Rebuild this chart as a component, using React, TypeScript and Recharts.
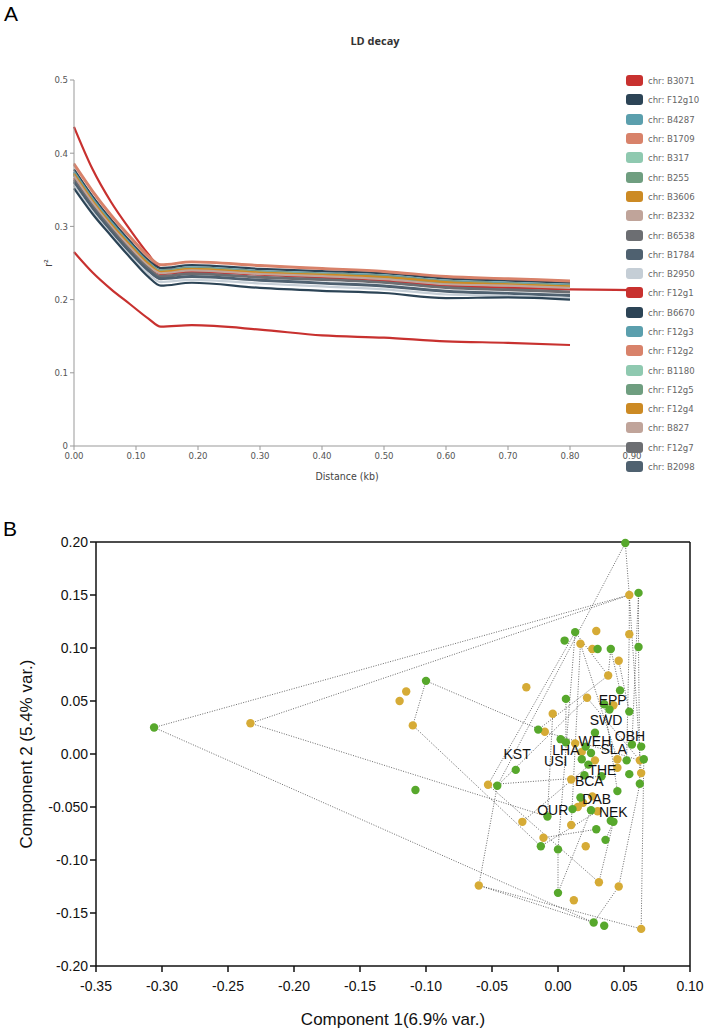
import { LineChart, Line, XAxis, YAxis, ScatterChart, Scatter, ReferenceLine } from "recharts"

// ---------- Panel A: LD decay ----------
const distances = [0, 0.03, 0.06, 0.09, 0.12, 0.14, 0.19, 0.3, 0.4, 0.5, 0.6, 0.7, 0.8, 0.9]
const distTicks = [0, 0.1, 0.2, 0.3, 0.4, 0.5, 0.6, 0.7, 0.8, 0.9]
const r2Ticks = [0, 0.1, 0.2, 0.3, 0.4, 0.5]

const chrNames = [
  "chr: B3071", "chr: F12g10", "chr: B4287", "chr: B1709", "chr: B317", "chr: B255", "chr: B3606",
  "chr: B2332", "chr: B6538", "chr: B1784", "chr: B2950", "chr: F12g1", "chr: B6670", "chr: F12g3",
  "chr: F12g2", "chr: B1180", "chr: F12g5", "chr: F12g4", "chr: B827", "chr: F12g7", "chr: B2098",
  "chr: F12g8",
]
const chrColors = [
  "#c8312f", "#2c4456", "#5b9fad", "#d8826a", "#8fc9b0", "#6f9e80", "#cc8a24",
  "#c0a49a", "#6c6e72", "#4f6170", "#c5ced6", "#c8312f", "#2c4456", "#5b9fad",
  "#d8826a", "#8fc9b0", "#6f9e80", "#cc8a24", "#c0a49a", "#6c6e72", "#4f6170",
  "#c8312f",
]
const chrR2 = [
  [0.436, 0.378, 0.333, 0.296, 0.262, 0.243, 0.241, 0.236, 0.232, 0.228, 0.221, 0.218, 0.216],
  [0.378, 0.341, 0.309, 0.28, 0.254, 0.243, 0.247, 0.242, 0.239, 0.236, 0.229, 0.226, 0.223],
  [0.375, 0.338, 0.306, 0.277, 0.251, 0.24, 0.244, 0.239, 0.236, 0.233, 0.226, 0.223, 0.22],
  [0.386, 0.349, 0.316, 0.287, 0.26, 0.248, 0.252, 0.247, 0.243, 0.239, 0.232, 0.229, 0.226],
  [0.372, 0.335, 0.303, 0.274, 0.249, 0.238, 0.242, 0.237, 0.234, 0.231, 0.224, 0.221, 0.218],
  [0.371, 0.334, 0.302, 0.273, 0.248, 0.237, 0.241, 0.236, 0.233, 0.23, 0.223, 0.22, 0.218],
  [0.373, 0.336, 0.304, 0.275, 0.25, 0.239, 0.243, 0.238, 0.235, 0.232, 0.225, 0.222, 0.219],
  [0.37, 0.333, 0.301, 0.272, 0.247, 0.237, 0.241, 0.236, 0.233, 0.229, 0.222, 0.219, 0.217],
  [0.363, 0.327, 0.296, 0.267, 0.242, 0.231, 0.235, 0.23, 0.227, 0.223, 0.216, 0.213, 0.21],
  [0.36, 0.324, 0.293, 0.264, 0.239, 0.228, 0.231, 0.226, 0.222, 0.218, 0.211, 0.208, 0.205],
  [0.356, 0.32, 0.289, 0.261, 0.235, 0.224, 0.227, 0.222, 0.218, 0.214, 0.207, 0.205, 0.202],
  [0.366, 0.33, 0.299, 0.27, 0.245, 0.235, 0.238, 0.234, 0.23, 0.226, 0.219, 0.216, 0.214, 0.213],
  [0.352, 0.317, 0.287, 0.258, 0.231, 0.219, 0.223, 0.216, 0.212, 0.209, 0.202, 0.203, 0.2],
  [0.374, 0.337, 0.305, 0.276, 0.25, 0.239, 0.243, 0.238, 0.235, 0.232, 0.225, 0.222, 0.219],
  [0.384, 0.347, 0.314, 0.285, 0.258, 0.247, 0.251, 0.246, 0.242, 0.238, 0.231, 0.228, 0.225],
  [0.371, 0.334, 0.302, 0.274, 0.248, 0.238, 0.242, 0.237, 0.234, 0.23, 0.223, 0.221, 0.218],
  [0.37, 0.333, 0.301, 0.273, 0.247, 0.237, 0.241, 0.236, 0.233, 0.229, 0.222, 0.22, 0.217],
  [0.372, 0.335, 0.303, 0.275, 0.249, 0.238, 0.242, 0.237, 0.234, 0.231, 0.224, 0.221, 0.218],
  [0.369, 0.332, 0.3, 0.272, 0.246, 0.236, 0.24, 0.235, 0.232, 0.228, 0.221, 0.219, 0.216],
  [0.364, 0.328, 0.297, 0.268, 0.243, 0.232, 0.236, 0.231, 0.228, 0.224, 0.217, 0.214, 0.211],
  [0.361, 0.325, 0.294, 0.265, 0.24, 0.229, 0.232, 0.227, 0.223, 0.219, 0.212, 0.209, 0.206],
  [0.265, 0.237, 0.214, 0.194, 0.174, 0.163, 0.165, 0.159, 0.151, 0.148, 0.143, 0.141, 0.138],
]
// only the first 21 chromosomes are shown in the legend
const legendCount = 21

const ldRows = distances.map((d, i) => {
  const row: any = { d }
  chrNames.forEach((n, s) => {
    row[n] = chrR2[s][i]
  })
  return row
})

// ---------- Panel B: PCA ----------
const pcXTicks = [-0.35, -0.3, -0.25, -0.2, -0.15, -0.1, -0.05, 0, 0.05, 0.1]
const pcYTicks = [-0.2, -0.15, -0.1, -0.05, 0, 0.05, 0.1, 0.15, 0.2]
const pcYTickLabels = ["-0.20", "-0.15", "-0.10", "-0.050", "0.00", "0.05", "0.10", "0.15", "0.20"]

const greenPts = [
  [0.051, 0.199], [0.061, 0.152], [0.013, 0.115], [0.005, 0.107], [0.061, 0.101], [0.03, 0.099],
  [0.04, 0.099], [-0.1, 0.069], [0.006, 0.052], [0.047, 0.06], [0.035, 0.047], [0.039, 0.042],
  [0.054, 0.04], [-0.306, 0.025], [-0.108, -0.034], [-0.015, 0.023], [0.028, 0.02], [0.002, 0.014],
  [0.006, 0.011], [0.021, 0.007], [0.025, 0.001], [0.018, -0.005], [0.056, 0.009], [0.063, 0.007],
  [0.052, -0.006], [0.065, -0.005], [-0.032, -0.015], [0.023, -0.01], [0.054, -0.019], [0.062, -0.028],
  [0.02, -0.02], [0.033, -0.021], [-0.046, -0.03], [0.045, -0.035], [0.017, -0.041], [0.011, -0.052],
  [0.025, -0.053], [-0.008, -0.059], [0.029, -0.071], [0.036, -0.081], [0.04, -0.063], [0.042, -0.064],
  [-0.013, -0.087], [0.0, -0.09], [0.0, -0.131], [0.027, -0.159], [0.035, -0.162],
]
const goldPts = [
  [0.054, 0.15], [0.029, 0.116], [0.017, 0.104], [0.054, 0.113], [0.026, 0.099], [0.046, 0.088],
  [0.038, 0.074], [-0.115, 0.059], [-0.12, 0.05], [-0.11, 0.027], [-0.233, 0.029], [-0.06, -0.124],
  [-0.024, 0.063], [0.022, 0.053], [0.042, 0.046], [-0.004, 0.038], [-0.01, 0.021], [0.013, 0.01],
  [0.018, 0.002], [0.028, -0.006], [0.045, -0.005], [0.062, -0.006], [0.045, -0.013], [0.063, -0.018],
  [0.01, -0.024], [-0.053, -0.029], [0.026, -0.04], [0.019, -0.046], [0.015, -0.05], [0.03, -0.054],
  [-0.027, -0.064], [0.01, -0.067], [-0.011, -0.079], [0.021, -0.087], [0.031, -0.121], [0.046, -0.125],
  [0.012, -0.138], [0.063, -0.165],
]
const hullLinks = [
  [[-0.306, 0.025], [0.054, 0.15]], [[-0.233, 0.029], [0.054, 0.15]], [[-0.306, 0.025], [0.027, -0.159]],
  [[-0.233, 0.029], [-0.008, -0.059]], [[-0.1, 0.069], [-0.11, 0.027]], [[-0.1, 0.069], [-0.01, 0.021]],
  [[-0.11, 0.027], [-0.013, -0.087]], [[0.051, 0.199], [0.054, 0.15]], [[0.051, 0.199], [-0.046, -0.03]],
  [[0.054, 0.15], [0.054, 0.113]], [[0.054, 0.15], [0.063, -0.018]], [[0.061, 0.152], [0.061, 0.101]],
  [[0.061, 0.101], [0.062, -0.028]], [[0.061, 0.152], [0.056, 0.009]], [[0.054, 0.113], [0.052, -0.006]],
  [[0.013, 0.115], [-0.053, -0.029]], [[0.013, 0.115], [0.0, -0.09]], [[0.013, 0.115], [0.038, 0.074]],
  [[0.017, 0.104], [0.045, -0.005]], [[0.017, 0.104], [0.01, -0.067]], [[0.04, 0.099], [0.038, 0.074]],
  [[0.04, 0.099], [0.047, 0.06]], [[0.046, 0.088], [0.054, 0.04]], [[-0.015, 0.023], [0.038, 0.074]],
  [[-0.01, 0.021], [0.062, -0.006]], [[-0.06, -0.124], [-0.046, -0.03]], [[-0.06, -0.124], [0.063, -0.165]],
  [[-0.06, -0.124], [0.027, -0.159]], [[0.027, -0.159], [0.046, -0.125]], [[0.046, -0.125], [0.062, -0.028]],
  [[0.0, -0.131], [0.0, -0.09]], [[0.0, -0.131], [0.025, -0.053]], [[0.063, -0.165], [0.065, -0.005]],
  [[0.031, -0.121], [0.042, -0.064]], [[0.031, -0.121], [-0.053, -0.029]], [[-0.046, -0.03], [0.022, 0.053]],
  [[-0.053, -0.029], [0.033, -0.021]], [[-0.027, -0.064], [0.028, -0.006]], [[-0.013, -0.087], [0.03, -0.054]],
  [[0.022, 0.053], [0.062, -0.006]], [[0.006, 0.052], [0.006, 0.011]], [[-0.004, 0.038], [-0.008, -0.059]],
  [[0.035, 0.047], [0.045, -0.035]], [[0.036, -0.081], [0.042, -0.064]], [[0.029, -0.071], [-0.011, -0.079]],
]
const popNames = ["EPP", "SWD", "OBH", "WEH", "SLA", "LHA", "KST", "USI", "THE", "BCA", "DAB", "OUR", "NEK"]
const popX = [0.0414, 0.0364, 0.0545, 0.028, 0.0422, 0.006, -0.031, -0.0017, 0.0336, 0.0237, 0.0293, -0.004, 0.0419]
const popY = [0.051, 0.032, 0.017, 0.0126, 0.0044, 0.0035, 0.0, -0.007, -0.015, -0.025, -0.042, -0.053, -0.0545]

const GREEN = "#57a82c"
const GOLD = "#d6ab36"
const narrow = "'Liberation Sans Narrow', 'DejaVu Sans Condensed', 'Liberation Sans', sans-serif"
const arial = "'Liberation Sans', Arial, sans-serif"

const greenData = greenPts.map(([x, y]) => ({ x, y }))
const goldData = goldPts.map(([x, y]) => ({ x, y }))
const labelData = popNames.map((name, i) => ({ x: popX[i], y: popY[i], name }))

const Dot = (color: string) => (p: any) => <circle cx={p.cx} cy={p.cy} r={4.2} fill={color} />

export default function App() {
  return (
    <div style={{ position: "absolute", left: 0, top: 0, width: 706, height: 1030, background: "#fff", overflow: "hidden" }}>
      <div style={{ position: "absolute", left: 4, top: 3, fontFamily: arial, fontSize: 21, lineHeight: "21px" }}>A</div>
      <div style={{ position: "absolute", left: 3, top: 518, fontFamily: arial, fontSize: 21, lineHeight: "21px" }}>B</div>
      <div style={{ position: "absolute", left: 325, top: 33, width: 100, textAlign: "center", fontFamily: "'Open Sans', sans-serif", fontWeight: 700, fontSize: 11, color: "#333" }}>
        LD decay
      </div>

      <div style={{ position: "absolute", left: 0, top: 0 }}>
        <LineChart width={706} height={500} data={ldRows} margin={{ top: 80, right: 74, bottom: 0, left: 0 }}>
          <XAxis
            dataKey="d"
            type="number"
            domain={[0, 0.9]}
            ticks={distTicks}
            tickFormatter={(v) => v.toFixed(2)}
            height={54}
            tickSize={4}
            stroke="#999"
            tick={{ fontSize: 9.5, fill: "#555", fontFamily: narrow }}
            label={() => (
              <text x={347} y={476} textAnchor="middle" dominantBaseline="central" fontSize={10.5} fill="#444" fontFamily={narrow}>
                Distance (kb)
              </text>
            )}
          />
          <YAxis
            type="number"
            domain={[0, 0.5]}
            ticks={r2Ticks}
            width={74}
            tickSize={4}
            stroke="#999"
            tick={{ fontSize: 9.5, fill: "#555", fontFamily: narrow }}
            label={() => (
              <text x={48} y={263} textAnchor="middle" dominantBaseline="central" fontSize={10.5} fill="#444" fontFamily={narrow} transform="rotate(-90 48 263)">
                r²
              </text>
            )}
          />
          {chrNames.map((n, s) => (
            <Line key={n} type="monotone" dataKey={n} stroke={chrColors[s]} strokeWidth={2.2} dot={false} isAnimationActive={false} />
          ))}
        </LineChart>
      </div>

      <div style={{ position: "absolute", left: 626, top: 71 }}>
        {chrNames.slice(0, legendCount).map((n, s) => (
          <div key={n} style={{ display: "flex", alignItems: "center", height: 19.3 }}>
            <div style={{ width: 17, height: 11, borderRadius: 3, background: chrColors[s], marginRight: 5 }} />
            <span style={{ fontSize: 9.5, color: "#666", fontFamily: narrow, whiteSpace: "nowrap" }}>{n}</span>
          </div>
        ))}
      </div>

      <div style={{ position: "absolute", left: 0, top: 500 }}>
        <ScatterChart width={706} height={530} margin={{ top: 42, right: 16, bottom: 0, left: 0 }}>
          <XAxis
            dataKey="x"
            type="number"
            domain={[-0.35, 0.1]}
            ticks={pcXTicks}
            tickFormatter={(v) => v.toFixed(2)}
            height={64}
            tickSize={6}
            tickMargin={9}
            stroke="#111"
            strokeWidth={1.5}
            tick={{ fontSize: 14, fill: "#111", fontFamily: arial }}
            label={() => (
              <text x={393} y={519} textAnchor="middle" dominantBaseline="central" fontSize={17} fill="#111" fontFamily={arial}>
                Component 1(6.9% var.)
              </text>
            )}
          />
          <YAxis
            dataKey="y"
            type="number"
            domain={[-0.2, 0.2]}
            ticks={pcYTicks}
            tickFormatter={(v) => pcYTickLabels[pcYTicks.findIndex((t) => Math.abs(t - v) < 1e-9)]}
            width={96}
            tickSize={6}
            stroke="#111"
            strokeWidth={1.5}
            tick={{ fontSize: 14, fill: "#111", fontFamily: arial }}
            label={() => (
              <text x={26} y={254} textAnchor="middle" dominantBaseline="central" fontSize={17} fill="#111" fontFamily={arial} transform="rotate(-90 26 254)">
                Component 2 (5.4% var.)
              </text>
            )}
          />
          <ReferenceLine y={0.2} stroke="#111" strokeWidth={1.5} />
          <ReferenceLine x={0.1} stroke="#111" strokeWidth={1.5} />
          {hullLinks.map((seg, i) => (
            <ReferenceLine
              key={i}
              segment={[{ x: seg[0][0], y: seg[0][1] }, { x: seg[1][0], y: seg[1][1] }]}
              stroke="#444"
              strokeWidth={0.8}
              strokeDasharray="1 1.5"
            />
          ))}
          <Scatter data={goldData} shape={Dot(GOLD)} isAnimationActive={false} />
          <Scatter data={greenData} shape={Dot(GREEN)} isAnimationActive={false} />
          <Scatter
            data={labelData}
            isAnimationActive={false}
            shape={(p: any) => (
              <text x={p.cx} y={p.cy} textAnchor="middle" dominantBaseline="central" fontSize={14} fill="#111" fontFamily={arial}>
                {p.payload.name}
              </text>
            )}
          />
        </ScatterChart>
      </div>
    </div>
  )
}
